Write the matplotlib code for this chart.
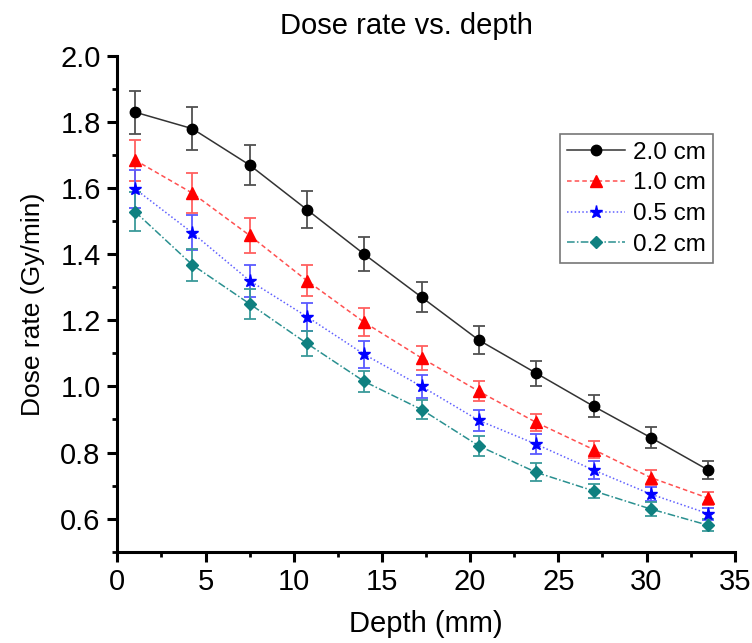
import matplotlib
matplotlib.use("Agg")
import matplotlib.pyplot as plt
from matplotlib.ticker import MultipleLocator, FormatStrFormatter

plt.rcParams['font.family'] = ['Liberation Sans', 'DejaVu Sans']

depth = [1.0, 4.25, 7.5, 10.75, 14.0, 17.25, 20.5, 23.75, 27.0, 30.25, 33.5]

labels = ["2.0 cm", "1.0 cm", "0.5 cm", "0.2 cm"]

rate_20 = [1.83, 1.78, 1.67, 1.535, 1.40, 1.27, 1.14, 1.04, 0.94, 0.845, 0.747]
err_20 = [0.065, 0.064, 0.06, 0.055, 0.052, 0.045, 0.042, 0.038, 0.033, 0.031, 0.028]

rate_10 = [1.685, 1.585, 1.457, 1.32, 1.194, 1.086, 0.985, 0.891, 0.809, 0.724, 0.662]
err_10 = [0.062, 0.06, 0.053, 0.047, 0.042, 0.037, 0.03, 0.027, 0.025, 0.023, 0.02]

rate_05 = [1.598, 1.465, 1.32, 1.211, 1.097, 1.0, 0.897, 0.825, 0.747, 0.674, 0.615]
err_05 = [0.058, 0.053, 0.048, 0.042, 0.04, 0.035, 0.032, 0.03, 0.027, 0.022, 0.018]

rate_02 = [1.529, 1.368, 1.25, 1.13, 1.015, 0.93, 0.82, 0.74, 0.684, 0.629, 0.58]
err_02 = [0.058, 0.048, 0.045, 0.039, 0.032, 0.03, 0.03, 0.027, 0.022, 0.021, 0.018]

series = [
    (rate_20, err_20, "black", "#333333", "-", "o", 7.5, "#505050"),
    (rate_10, err_10, "red", "#ff5050", (0, (3, 2)), "^", 8.0, "#ff6060"),
    (rate_05, err_05, "blue", "#6060ff", (0, (1, 1.5)), "*", 9.5, "#5a5aff"),
    (rate_02, err_02, "#0f8080", "#2a9090", (0, (5, 1.5, 1, 1.5)), "D", 6.0, "#3a9a9a"),
]

fig = plt.figure(figsize=(7.52, 6.43), dpi=100)
ax = fig.add_axes([0.156, 0.142, 0.821, 0.771])

for (vals, errs, mcol, lcol, ls, mk, ms, ecol), lab in zip(series, labels):
    ax.errorbar(depth, vals, yerr=errs, fmt='none', ecolor=ecol, elinewidth=1.3,
                capsize=4, capthick=1.3, zorder=2)
    ax.plot(depth, vals, color=lcol, linestyle=ls, linewidth=1.1, marker=mk,
            markersize=ms, markerfacecolor=mcol, markeredgecolor=mcol,
            label=lab, zorder=3)

ax.set_xlim(0, 35)
ax.set_ylim(0.5, 2.0)
ax.xaxis.set_major_locator(MultipleLocator(5))
ax.xaxis.set_minor_locator(MultipleLocator(2.5))
ax.yaxis.set_minor_locator(MultipleLocator(0.1))
ax.set_yticks([0.6, 0.8, 1.0, 1.2, 1.4, 1.6, 1.8, 2.0])
ax.yaxis.set_major_formatter(FormatStrFormatter('%.1f'))

for s in ['top', 'right']:
    ax.spines[s].set_visible(False)
for s in ['left', 'bottom']:
    ax.spines[s].set_linewidth(2.2)

ax.tick_params(which='major', direction='out', length=7, width=2.2, labelsize=21)
ax.tick_params(which='minor', direction='out', length=3.5, width=2.0)
ax.tick_params(axis='x', which='major', pad=5)
ax.tick_params(axis='y', which='major', pad=5)

ax.set_xlabel("Depth (mm)", fontsize=21, labelpad=10)
ax.set_ylabel("Dose rate (Gy/min)", fontsize=19, labelpad=11)
ax.set_title("Dose rate vs. depth", fontsize=21, pad=16, x=0.468)

leg = ax.legend(loc='upper right', bbox_to_anchor=(0.9645, 0.842), fontsize=17.5,
                frameon=True, fancybox=False, edgecolor='#555555', handlelength=2.4,
                handletextpad=0.3, borderpad=0.3, labelspacing=0.36, borderaxespad=0.0)
leg.get_frame().set_linewidth(1.2)

fig.savefig("out.png", dpi=100)
